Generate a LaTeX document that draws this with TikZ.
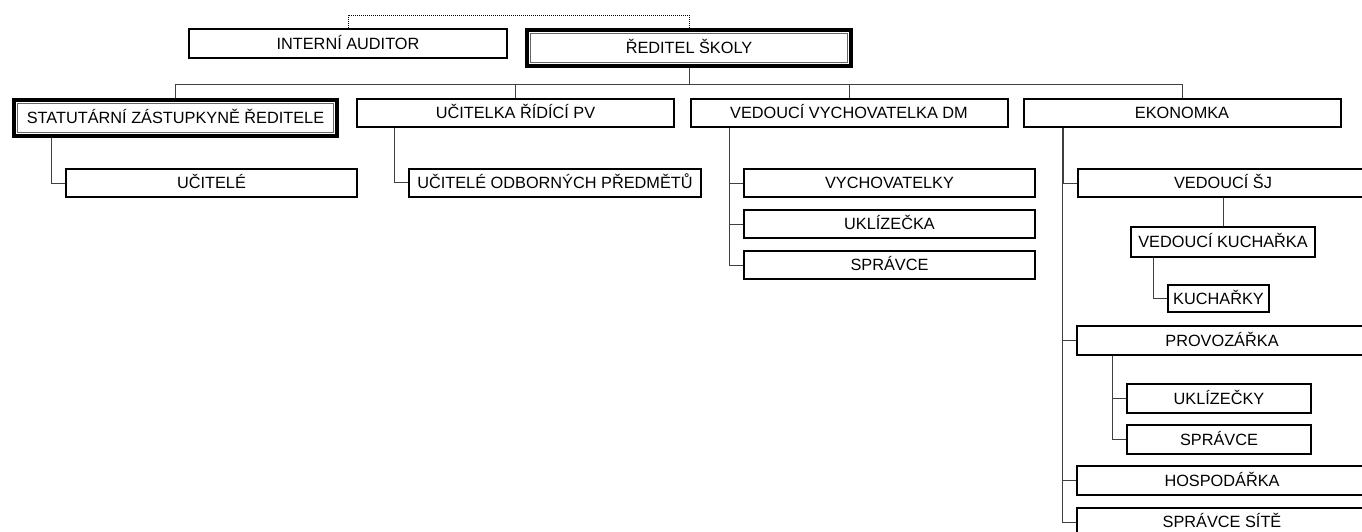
\documentclass[tikz,border=0pt]{standalone}
\usepackage{fontspec}
\setmainfont{Liberation Sans}
\usetikzlibrary{positioning}

\begin{document}
\begin{tikzpicture}[
        x=1pt, y=-1pt,
        node distance=11pt,
        box/.style={rectangle, draw=black, line width=2pt, minimum width=317pt, minimum height=29pt, inner sep=2pt, text height=11.7pt, text depth=0pt, text=black, font=\fontsize{16.3}{19}\selectfont},
        chief/.style={box, line width=4pt, minimum width=324pt, minimum height=36pt},
        sub/.style={box, minimum width=291pt, minimum height=28pt},
        link/.style={black!75, line width=1pt},
        dotlink/.style={black, line width=1pt, dash pattern=on 1pt off 1pt},
        frame/.style={black!60, line width=1pt}
    ]
        \useasboundingbox (0,0) rectangle (1362,531);
        \clip (0,0) rectangle (1362,531);

        % Top
        \node[box, minimum width=318pt] (auditor) at (348,43.5) {INTERNÍ AUDITOR};
        \node[chief] (reditel) at (689,48) {ŘEDITEL ŠKOLY};

        % Second level
        \node[chief, minimum width=323pt] (statutar) at (175.5,118) {STATUTÁRNÍ ZÁSTUPKYNĚ ŘEDITELE};
        \node[box, minimum height=28pt] (ucitelka) at (515.5,113) {UČITELKA ŘÍDÍCÍ PV};
        \node[box, minimum height=28pt] (vedvych) at (849,113) {VEDOUCÍ VYCHOVATELKA DM};
        \node[box, minimum height=28pt] (ekonomka) at (1182,113) {EKONOMKA};

        % Teachers
        \node[sub] (ucitele) at (211.5,183) {UČITELÉ};
        \node[sub, minimum width=292pt] (odborne) at (555,182.5) {UČITELÉ ODBORNÝCH PŘEDMĚTŮ};

        % Dormitory
        \node[sub] (vychovatelky) at (889.5,183) {VYCHOVATELKY};
        \node[sub, below=of vychovatelky] (uklizecka) {UKLÍZEČKA};
        \node[sub, below=of uklizecka] (spravcea) {SPRÁVCE};

        % Economy
        \node[sub, minimum width=290pt] (vedsj) at (1223,183) {VEDOUCÍ ŠJ};
        \node[sub, minimum width=184pt, minimum height=30pt] (vedkuch) at (1223,242) {VEDOUCÍ KUCHAŘKA};
        \node[sub, minimum width=101pt, minimum height=27pt] (kucharky) at (1218.5,298.5) {KUCHAŘKY};
        \node[sub, minimum width=290pt, minimum height=29pt] (provozarka) at (1222,340.5) {PROVOZÁŘKA};
        \node[sub, minimum width=184pt, minimum height=29pt] (uklizecky) at (1219,398.5) {UKLÍZEČKY};
        \node[sub, minimum width=184pt, minimum height=29pt, below=10pt of uklizecky] (spravceb) {SPRÁVCE};
        \node[sub, minimum width=290pt, minimum height=29pt] (hospodarka) at (1222,480.5) {HOSPODÁŘKA};
        \node[sub, minimum width=290pt, minimum height=29pt] (sprsite) at (1222,522) {SPRÁVCE SÍTĚ};

        % Inner frames
        \foreach \n in {reditel,statutar}
            \draw[frame] ([xshift=5.5pt,yshift=-5.5pt]\n.north west) rectangle ([xshift=-5.5pt,yshift=5.5pt]\n.south east);

        % Connectors
        \coordinate (bus) at (0,84);
        \draw[dotlink] (auditor.north) -- ++(0,-13) -| (reditel.north);
        \draw[link] (reditel.south) -- (reditel.south |- bus);
        \draw[link] (statutar.north) -- (statutar.north |- bus) -- (ekonomka.north |- bus) -- (ekonomka.north);
        \foreach \n in {ucitelka,vedvych}
            \draw[link] (\n.north) -- (\n.north |- bus);

        \draw[link] ([xshift=-14pt]ucitele.west |- statutar.south) |- (ucitele.west);
        \draw[link] ([xshift=-14pt]odborne.west |- ucitelka.south) |- (odborne.west);
        \foreach \c in {vychovatelky,uklizecka,spravcea}
            \draw[link] ([xshift=-14pt]\c.west |- vedvych.south) |- (\c.west);
        \foreach \c in {vedsj,provozarka,hospodarka,sprsite}
            \draw[link] ([xshift=-14pt]\c.west |- ekonomka.south) |- (\c.west);
        \draw[link] (vedsj.south) -- (vedkuch.north);
        \draw[link] ([xshift=-14pt]kucharky.west |- vedkuch.south) |- (kucharky.west);
        \foreach \c in {uklizecky,spravceb}
            \draw[link] ([xshift=-14pt]\c.west |- provozarka.south) |- (\c.west);
    \end{tikzpicture}
\end{document}
